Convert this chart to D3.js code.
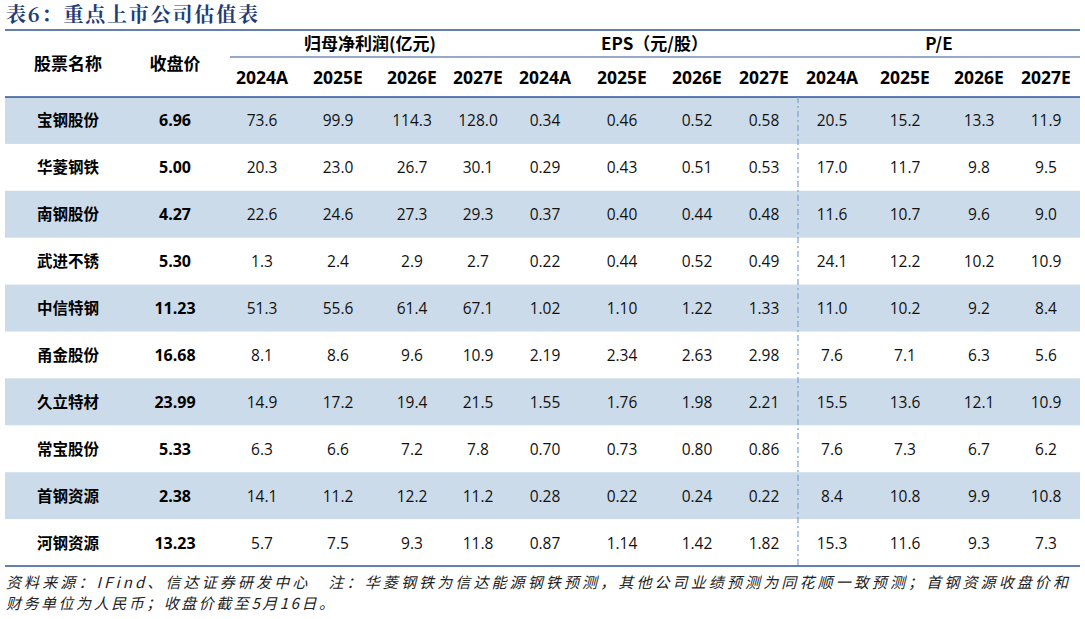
<!DOCTYPE html>
<html><head><meta charset="utf-8">
<script src="https://cdn.jsdelivr.net/npm/d3@7"></script>
<style>body{margin:0;background:#fff}text{font-family:"Noto Sans CJK SC","Open Sans",sans-serif}</style>
</head><body>
<script>
var names = ['宝钢股份','华菱钢铁','南钢股份','武进不锈','中信特钢','甬金股份','久立特材','常宝股份','首钢资源','河钢资源']
var prices = ['6.96','5.00','4.27','5.30','11.23','16.68','23.99','5.33','2.38','13.23']
var profit = [['73.6','99.9','114.3','128.0'],['20.3','23.0','26.7','30.1'],['22.6','24.6','27.3','29.3'],['1.3','2.4','2.9','2.7'],['51.3','55.6','61.4','67.1'],['8.1','8.6','9.6','10.9'],['14.9','17.2','19.4','21.5'],['6.3','6.6','7.2','7.8'],['14.1','11.2','12.2','11.2'],['5.7','7.5','9.3','11.8']]
var eps = [['0.34','0.46','0.52','0.58'],['0.29','0.43','0.51','0.53'],['0.37','0.40','0.44','0.48'],['0.22','0.44','0.52','0.49'],['1.02','1.10','1.22','1.33'],['2.19','2.34','2.63','2.98'],['1.55','1.76','1.98','2.21'],['0.70','0.73','0.80','0.86'],['0.28','0.22','0.24','0.22'],['0.87','1.14','1.42','1.82']]
var pe = [['20.5','15.2','13.3','11.9'],['17.0','11.7','9.8','9.5'],['11.6','10.7','9.6','9.0'],['24.1','12.2','10.2','10.9'],['11.0','10.2','9.2','8.4'],['7.6','7.1','6.3','5.6'],['15.5','13.6','12.1','10.9'],['7.6','7.3','6.7','6.2'],['8.4','10.8','9.9','10.8'],['15.3','11.6','9.3','7.3']]
var years = ['2024A','2025E','2026E','2027E']
var groups = ['归母净利润(亿元)','EPS（元/股）','P/E']

var W = 1085, H = 619
var svg = d3.select('body').append('svg').attr('width', W).attr('height', H)

var colKeys = ['name','price'].concat(d3.range(12).map(i => 'c' + i))
var x = d3.scaleOrdinal().domain(colKeys)
    .range([68,175,262,338,412,478,545,622,697,764,832,905,979,1046])
var y = d3.scaleBand().domain(d3.range(names.length)).range([97,566])

// title
svg.append('text').attr('x',6).attr('y',22).attr('fill','#1f3d7a').attr('font-size',20).attr('font-weight','bold')
    .attr('textLength',252).style('font-family','"Noto Serif CJK SC","Noto Sans CJK SC",serif').text('表6：重点上市公司估值表')

// row shading
svg.selectAll('rect.band').data(d3.range(names.length).filter(i => i % 2 === 0)).join('rect')
    .attr('x',5).attr('width',1075).attr('y',i => y(i)).attr('height',y.bandwidth()).attr('fill','#ccdbea')

// rules
var line = (x1,x2,yy,w) => svg.append('line').attr('x1',x1).attr('x2',x2).attr('y1',yy).attr('y2',yy).attr('stroke','#2f5597').attr('stroke-width',w)
line(5,1080,30,1.5); line(230,1080,57,1.2); line(5,1080,97,1.5); line(5,1080,566,1.5)
svg.append('line').attr('x1',798).attr('x2',798).attr('y1',97).attr('y2',566)
    .attr('stroke','#7f9fd0').attr('stroke-width',1.2).attr('stroke-dasharray','6,3,2,3')

// header
svg.append('text').attr('x',x('name')).attr('y',70).attr('text-anchor','middle').attr('font-size',17).attr('font-weight','bold').text('股票名称')
svg.append('text').attr('x',x('price')).attr('y',70).attr('text-anchor','middle').attr('font-size',17).attr('font-weight','bold').text('收盘价')
groups.forEach((g,gi) => {
    var cx = (x('c' + gi*4) + x('c' + (gi*4+3))) / 2
    svg.append('text').attr('x',cx).attr('y',50).attr('text-anchor','middle').attr('font-size',17).attr('font-weight','bold').text(g)
    years.forEach((yr,yi) => {
        svg.append('text').attr('x',x('c' + (gi*4+yi))).attr('y',84).attr('text-anchor','middle')
            .attr('font-size',17.5).attr('font-weight','bold').style('font-family','"Open Sans",sans-serif').text(yr)
    })
})

// body
names.forEach((n,i) => {
    var cy = y(i) + y.bandwidth()/2 + 6
    svg.append('text').attr('x',x('name')).attr('y',cy).attr('text-anchor','middle').attr('font-size',15.5).attr('font-weight','bold').text(n)
    svg.append('text').attr('x',x('price')).attr('y',cy).attr('text-anchor','middle').attr('font-size',16).attr('font-weight','bold')
        .style('font-family','"Open Sans",sans-serif').text(prices[i])
    profit[i].concat(eps[i], pe[i]).forEach((v,j) => {
        svg.append('text').attr('x',x('c' + j)).attr('y',cy).attr('text-anchor','middle').attr('font-size',15.5)
            .style('font-family','"Open Sans",sans-serif').attr('fill','#111').text(v)
    })
})

// notes
var notes = ['资料来源：IFind、信达证券研发中心　注：华菱钢铁为信达能源钢铁预测，其他公司业绩预测为同花顺一致预测；首钢资源收盘价和',
    '财务单位为人民币；收盘价截至5月16日。']
var noteLen = [1062, 328]
notes.forEach((t,i) => svg.append('text').attr('x',6).attr('y',588 + i*21).attr('font-size',15).attr('font-style','italic')
    .attr('textLength',noteLen[i]).attr('fill','#222').text(t))
</script>
</body></html>
